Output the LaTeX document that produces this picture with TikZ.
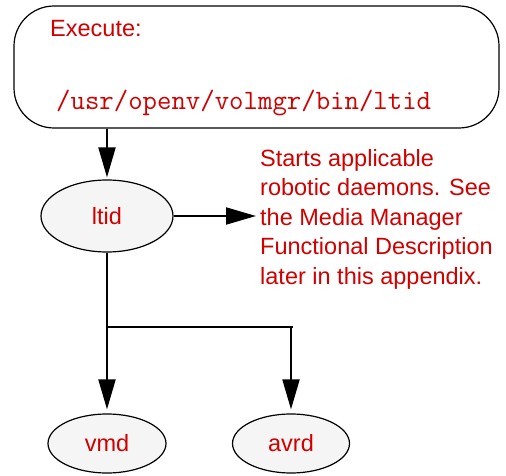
\documentclass[tikz,border=0pt]{standalone}
\usepackage{fontspec}
\setmainfont{Liberation Sans}
\usetikzlibrary{arrows.meta,shapes.geometric}
\definecolor{labelred}{RGB}{208,0,0}
\definecolor{daemongray}{RGB}{245,245,245}

\begin{document}
\begin{tikzpicture}[x=1pt,y=-1pt,
  daemon/.style={ellipse,draw,line width=1.2pt,fill=daemongray,inner sep=0pt,
    text=labelred,font=\fontsize{23.5}{28}\selectfont},
  flow/.style={line width=2pt,-{Triangle[length=30pt,width=17pt]}},
  plain/.style={line width=2pt}]

\useasboundingbox (0,0) rectangle (506,476);

\node[draw,line width=1.2pt,rounded corners=40pt,minimum width=485pt,minimum height=122pt,inner sep=0pt]
  (exec) at (256.5,67) {};
\node[anchor=base west,inner sep=0pt,text=labelred,font=\fontsize{23.5}{28}\selectfont]
  (exectitle) at (50,37) {Execute:};
\node[anchor=base west,inner sep=0pt,text=labelred,font=\ttfamily\fontsize{28}{30}\selectfont]
  (execpath) at (56,110) {/usr/openv/volmgr/bin/ltid};

\node[daemon,minimum width=132pt,minimum height=72pt] (ltid) at (107,216) {ltid};
\node[daemon,minimum width=118pt,minimum height=59pt] (vmd) at (107,443.5) {vmd};
\node[daemon,minimum width=117pt,minimum height=59pt] (avrd) at (291,443.5) {avrd};

\node[anchor=north west,inner sep=0pt,align=left,text=labelred,
  font=\fontsize{23.5}{29.5}\selectfont] (desc) at (260,149)
  {Starts applicable\\robotic daemons. See\\the Media Manager\\Functional Description\\later in this appendix.};

\coordinate (branch) at (0,327);

\draw[flow,shorten >=2pt] (ltid.north |- exec.south) -- (ltid.north);
\draw[flow,shorten >=4pt] (ltid.east) -- (ltid.east -| desc.west);
\draw[flow,shorten >=4pt] (ltid.south) -- (vmd.north);
\draw[plain] (ltid.south |- branch) -- ([xshift=2pt]avrd.north |- branch);
\draw[flow,shorten >=4pt] (avrd.north |- branch) -- (avrd.north);

\end{tikzpicture}
\end{document}
